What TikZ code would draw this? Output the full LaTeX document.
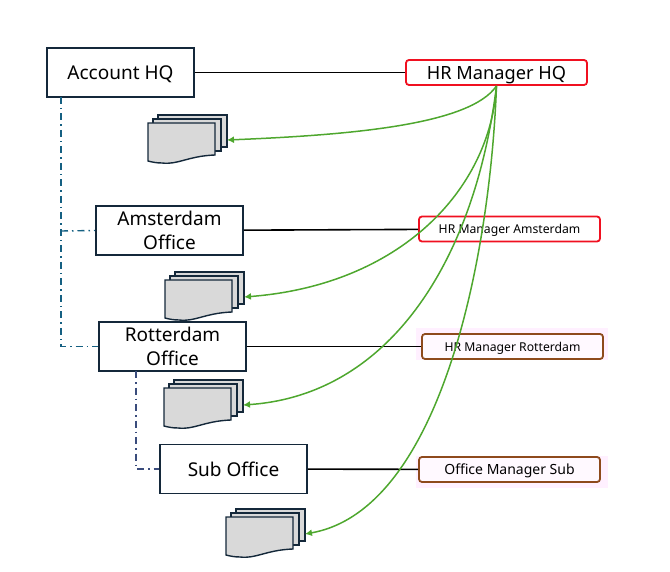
\documentclass[tikz,border=0pt]{standalone}
\usepackage{fontspec}
\setmainfont{Noto Sans}
\usetikzlibrary{arrows.meta}
\definecolor{boxline}{HTML}{14283A}
\definecolor{linkteal}{HTML}{156082}
\definecolor{linknavy}{HTML}{3A4C7C}
\definecolor{sheetgray}{HTML}{D9D9D9}
\definecolor{arrowgreen}{HTML}{4EA72E}
\definecolor{hrred}{HTML}{F01020}
\definecolor{hrbrown}{HTML}{8E4A1C}
\definecolor{halopink}{HTML}{FFF0FF}
\tikzset{
    officebox/.style={draw=boxline,line width=1.7pt,fill=white,minimum width=147pt,minimum height=49pt,inner sep=0pt,align=center,font=\fontsize{19}{24}\selectfont},
    hrbox/.style={draw=hrred,line width=1.8pt,fill=white,rounded corners=3pt,minimum width=181pt,minimum height=25pt,inner sep=0pt,text depth=0pt,font=\fontsize{12.2}{15}\selectfont},
    hrsub/.style={hrbox,draw=hrbrown,fill=halopink!40},
    solidlink/.style={black,line width=1.6pt},
    dashlink/.style={linkteal,line width=1.4pt,dash pattern=on 7pt off 4pt on 1.5pt off 4pt},
    greenarc/.style={arrowgreen,line width=1.5pt,-{Latex[length=7pt,width=7pt]}},
    sheet/.style={draw=boxline,line width=1.4pt,fill=sheetgray},
    docstack/.pic={
        \draw[sheet] (10,-8) rectangle (79,24);
        \draw[sheet] (5,-4) rectangle (73,28);
        \draw[sheet] (0,0) -- (67,0) -- (67,32) .. controls (40,33) and (30,42) .. (14,40) .. controls (8,40) and (4,39) .. (0,38) -- cycle;
        \coordinate (-in) at (79,17);
    }
}
\begin{document}
\begin{tikzpicture}[x=1pt,y=-1pt]
\useasboundingbox (0,0) rectangle (670,572);
% left side
\node[officebox,text depth=0pt] (acct) at (120.5,72.5) {Account HQ};
\node[officebox] (ams) at (169.5,230.5) {Amsterdam\\Office};
\node[officebox] (rot) at (172.5,346.5) {Rotterdam\\Office};
\node[officebox] (sub) at (233.5,469) {Sub Office};
% right side
\fill[halopink] (416,328) rectangle (608,360);
\fill[halopink] (416,456) rectangle (608,488);
\node[hrbox,font=\fontsize{18.2}{20}\selectfont] (hrhq) at (496.5,72.5) {HR Manager HQ};
\node[hrbox] (hrams) at (509.5,229) {HR Manager Amsterdam};
\node[hrsub] (hrrot) at (512.5,346.5) {HR Manager Rotterdam};
\node[hrsub,font=\fontsize{14}{15}\selectfont] (hrsubo) at (509.5,469.5) {Office Manager Sub};
\draw[solidlink] (acct) -- (hrhq);
\draw[solidlink] (ams) -- (hrams);
\draw[solidlink] (rot) -- (hrrot);
\draw[solidlink] (sub) -- (hrsubo);
% hierarchy
\coordinate (acctfoot) at (61,97);
\coordinate (rotfoot) at (136,371);
\coordinate (acctmid) at (61,231);
\draw[dashlink] (acctfoot) |- (rot.west);
\draw[dashlink] (acctmid) -- (ams.west);
\draw[dashlink,linknavy] (rotfoot) |- (sub.west);
% documents
\pic (docA) at (148,123) {docstack};
\pic (docB) at (165,280) {docstack};
\pic (docC) at (164,388) {docstack};
\pic (docD) at (226,517) {docstack};
\draw[greenarc] (hrhq.south) .. controls (470,125) and (350,135) .. (docA-in);
\draw[greenarc] (hrhq.south) .. controls (490,190) and (400,285) .. (docB-in);
\draw[greenarc] (hrhq.south) .. controls (475,260) and (390,395) .. (docC-in);
\draw[greenarc] (hrhq.south) .. controls (490,260) and (440,510) .. (docD-in);
\end{tikzpicture}
\end{document}
